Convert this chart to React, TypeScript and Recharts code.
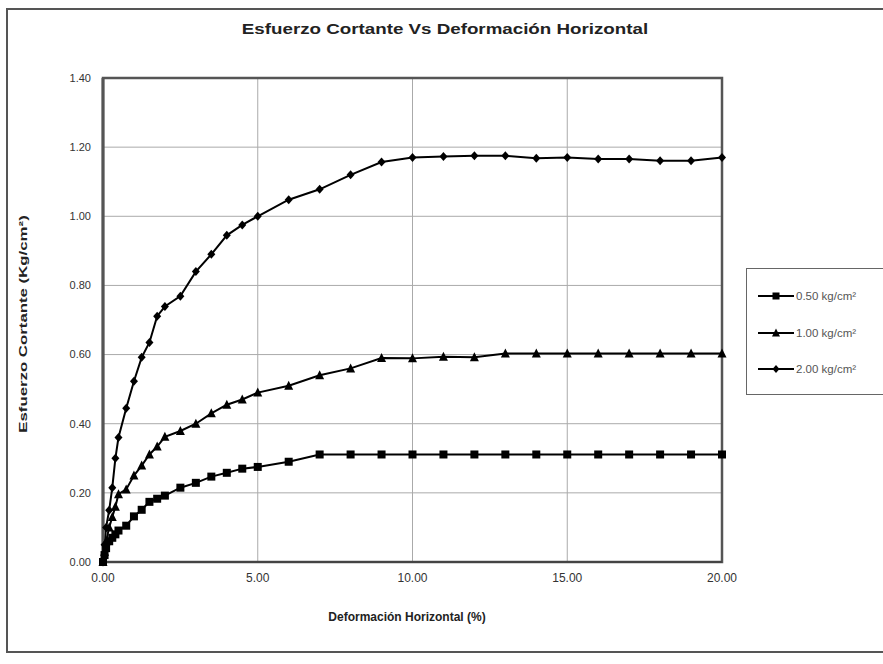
import React from "react";
import { LineChart, Line, XAxis, YAxis, CartesianGrid, Legend, ReferenceArea } from "recharts";

const deformation = [0, 0.05, 0.1, 0.2, 0.3, 0.4, 0.5, 0.75, 1.0, 1.25, 1.5, 1.75, 2.0, 2.5, 3.0, 3.5, 4.0, 4.5, 5.0, 6.0, 7.0, 8.0, 9.0, 10, 11, 12, 13, 14, 15, 16, 17, 18, 19, 20];
const shear050 = [0, 0.02, 0.04, 0.06, 0.07, 0.08, 0.091, 0.105, 0.132, 0.151, 0.174, 0.183, 0.192, 0.215, 0.229, 0.247, 0.258, 0.27, 0.275, 0.29, 0.311, 0.311, 0.311, 0.311, 0.311, 0.311, 0.311, 0.311, 0.311, 0.311, 0.311, 0.311, 0.311, 0.311];
const shear100 = [0, 0.03, 0.06, 0.1, 0.13, 0.16, 0.196, 0.21, 0.25, 0.279, 0.311, 0.334, 0.362, 0.379, 0.4, 0.43, 0.455, 0.47, 0.49, 0.51, 0.54, 0.56, 0.59, 0.589, 0.594, 0.592, 0.603, 0.603, 0.603, 0.603, 0.603, 0.603, 0.603, 0.603];
const shear200 = [0, 0.05, 0.1, 0.15, 0.215, 0.3, 0.36, 0.445, 0.523, 0.592, 0.635, 0.711, 0.739, 0.769, 0.84, 0.89, 0.945, 0.975, 1.0, 1.048, 1.078, 1.12, 1.157, 1.17, 1.173, 1.175, 1.175, 1.168, 1.17, 1.166, 1.166, 1.161, 1.161, 1.17];
const seriesNames = ["0.50 kg/cm²", "1.00 kg/cm²", "2.00 kg/cm²"];
const xTicks = [0, 5, 10, 15, 20];
const yTicks = [0, 0.2, 0.4, 0.6, 0.8, 1.0, 1.2, 1.4];

const data = deformation.map((d, i) => ({ x: d, s050: shear050[i], s100: shear100[i], s200: shear200[i] }));

const FONT = "'Liberation Sans', Arial, sans-serif";

function Marker({ cx, cy, kind, size = 8 }: { cx: number; cy: number; kind: string; size?: number }) {
  const h = size / 2;
  if (kind === "square") return <rect x={cx - h} y={cy - h} width={size} height={size} fill="#000" />;
  if (kind === "triangle") return <polygon points={`${cx},${cy - h - 1} ${cx + h + 0.5},${cy + h} ${cx - h - 0.5},${cy + h}`} fill="#000" />;
  return <polygon points={`${cx},${cy - h - 0.5} ${cx + h},${cy} ${cx},${cy + h + 0.5} ${cx - h},${cy}`} fill="#000" />;
}

const makeDot = (kind: string) => (props: any) => {
  const { cx, cy, index } = props;
  if (cx == null || cy == null) return <g key={index} />;
  return <Marker key={index} cx={cx} cy={cy} kind={kind} />;
};

const kinds = ["square", "triangle", "diamond"];

const LegendContent = () => (
  <div style={{ border: "1.5px solid #666", background: "#fff", width: 140, height: 127, boxSizing: "border-box", paddingTop: 9, fontFamily: FONT }}>
    {seriesNames.map((n, i) => (
      <div key={n} style={{ display: "flex", alignItems: "center", height: 36.5 }}>
        <svg width={38} height={10} style={{ marginLeft: 10 }}>
          <line x1={1} y1={5} x2={37} y2={5} stroke="#000" strokeWidth={1.8} />
          <Marker cx={19} cy={5} kind={kinds[i]} size={7} />
        </svg>
        <span style={{ fontSize: 11.5, color: "#555", marginLeft: 1 }}>{n}</span>
      </div>
    ))}
  </div>
);

export default function App() {
  return (
    <div style={{ position: "absolute", left: 0, top: 0, width: 883, height: 664, background: "#fff", fontFamily: FONT }}>
      <div style={{ position: "absolute", left: 6, top: 8, width: 880, height: 645, border: "2px solid #555", boxSizing: "border-box" }} />
      <div style={{ position: "absolute", left: 445, top: 28, width: 0, height: 0 }}>
        <div style={{ position: "absolute", transform: "translate(-50%, -50%) scaleX(1.25)", whiteSpace: "nowrap", fontSize: 15, fontWeight: "bold", color: "#222" }}>
          Esfuerzo Cortante Vs Deformación Horizontal
        </div>
      </div>
      <div style={{ position: "absolute", left: 407, top: 617, width: 0, height: 0 }}>
        <div style={{ position: "absolute", transform: "translate(-50%, -50%)", whiteSpace: "nowrap", fontSize: 12, fontWeight: "bold", color: "#222" }}>
          Deformación Horizontal (%)
        </div>
      </div>
      <div style={{ position: "absolute", left: 23, top: 324, width: 0, height: 0 }}>
        <div style={{ position: "absolute", transform: "translate(-50%, -50%) rotate(-90deg) scaleX(1.6)", whiteSpace: "nowrap", fontSize: 10.5, fontWeight: "bold", color: "#222" }}>
          Esfuerzo Cortante (Kg/cm²)
        </div>
      </div>
      <div style={{ position: "absolute", left: 0, top: 0 }}>
        <LineChart width={883} height={664} data={data} margin={{ top: 78, right: 161, bottom: 82, left: 43 }}>
          <CartesianGrid stroke="#aaa" strokeWidth={1} />
          <XAxis
            dataKey="x"
            type="number"
            domain={[0, 20]}
            ticks={xTicks}
            tickFormatter={(v: number) => v.toFixed(2)}
            tickLine={false}
            axisLine={{ stroke: "#444", strokeWidth: 2 }}
            tick={{ fontSize: 12, fill: "#333", fontFamily: FONT }}
            height={20}
            tickMargin={5}
          />
          <YAxis
            type="number"
            domain={[0, 1.4]}
            ticks={yTicks}
            tickFormatter={(v: number) => v.toFixed(2)}
            tickLine={false}
            axisLine={{ stroke: "#555", strokeWidth: 3 }}
            tick={{ fontSize: 11, fill: "#333", fontFamily: FONT }}
            width={60}
            tickMargin={6}
          />
          <ReferenceArea x1={0} x2={20} y1={0} y2={1.4} fill="none" stroke="#555" strokeWidth={2.5} ifOverflow="visible" />
          <Line dataKey="s050" name={seriesNames[0]} stroke="#000" strokeWidth={2} dot={makeDot("square")} isAnimationActive={false} />
          <Line dataKey="s100" name={seriesNames[1]} stroke="#000" strokeWidth={2} dot={makeDot("triangle")} isAnimationActive={false} />
          <Line dataKey="s200" name={seriesNames[2]} stroke="#000" strokeWidth={2} dot={makeDot("diamond")} isAnimationActive={false} />
          <Legend layout="horizontal" verticalAlign="middle" align="center" content={LegendContent} wrapperStyle={{ position: "absolute", left: 746, top: 268, width: 140, height: 127 }} />
        </LineChart>
      </div>
    </div>
  );
}
